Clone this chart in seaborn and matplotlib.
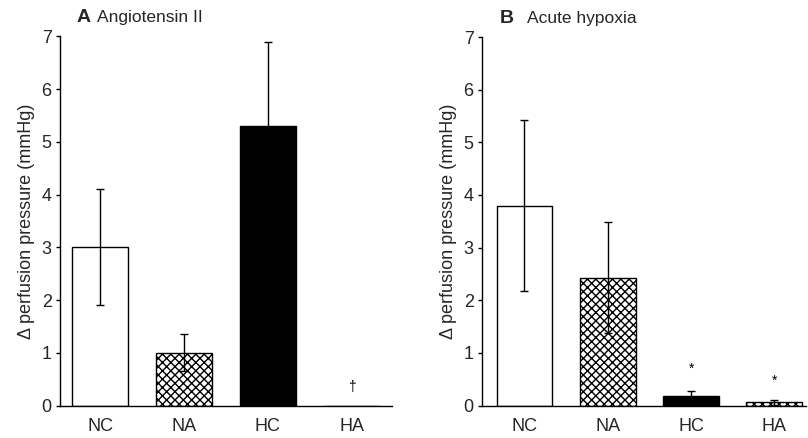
import matplotlib
matplotlib.use("Agg")
import matplotlib.pyplot as plt
import seaborn as sns
import pandas as pd
import numpy as np

categories = ["NC", "NA", "HC", "HA"]
ang_values = [3.0, 1.0, 5.3, 0.0]
ang_errors = [1.1, 0.35, 1.6, 0.0]
hyp_values = [3.8, 2.43, 0.18, 0.06]
hyp_errors = [1.63, 1.05, 0.10, 0.05]
ang_marks = ["", "", "", "†"]
hyp_marks = ["", "", "*", "*"]
ang_mark_y = [0, 0, 0, 0.35]
hyp_mark_y = [0, 0, 0.70, 0.47]
yticks = [0, 1, 2, 3, 4, 5, 6, 7]
ylabel = "Δ perfusion pressure (mmHg)"

sns.set_theme(style="ticks")
plt.rcParams["font.family"] = ["Liberation Sans", "DejaVu Sans"]

fig = plt.figure(figsize=(8.08, 4.38), dpi=100)
axA = fig.add_axes([0.0743, 0.074, 0.4107, 0.843])
axB = fig.add_axes([0.5965, 0.074, 0.401, 0.8415])

facecolors = ["white", "white", "black", "white"]
hatches = ["", "xxxx", "", "xxxx"]

def panel(ax, values, errors, marks, mark_y, letter, title, xlim, lx, tx):
    df = pd.DataFrame({"group": categories, "value": values})
    sns.barplot(data=df, x="group", y="value", order=categories, ax=ax,
                width=0.67, errorbar=None, color="white", saturation=1)
    for p, fc, h in zip(ax.patches, facecolors, hatches):
        p.set_facecolor(fc)
        p.set_edgecolor("black")
        p.set_linewidth(1.0)
        p.set_hatch(h)
    x = np.arange(len(categories))
    for xi, v, e in zip(x, values, errors):
        if e > 0:
            ax.errorbar(xi, v, yerr=e, fmt="none", ecolor="black",
                        elinewidth=1.0, capsize=3, capthick=1.0, zorder=5)
    for xi, m, my in zip(x, marks, mark_y):
        if m:
            ax.text(xi, my, m, ha="center", va="center", fontsize=10, color="black")
    ax.set_ylim(0, 7)
    ax.set_xlim(*xlim)
    ax.set_yticks(yticks)
    ax.set_yticklabels([str(t) for t in yticks], fontsize=13)
    ax.tick_params(axis="y", length=3, width=1, pad=3, color="black")
    ax.tick_params(axis="x", length=0, pad=9, labelsize=13)
    ax.set_xlabel("")
    ax.set_ylabel(ylabel, fontsize=13, labelpad=5)
    sns.despine(ax=ax)
    for s in ["left", "bottom"]:
        ax.spines[s].set_color("black")
        ax.spines[s].set_linewidth(1.0)
    ax.text(lx, 1.05, letter, transform=ax.transAxes, fontsize=14,
            fontweight="bold", va="center", ha="left")
    ax.text(tx, 1.05, title, transform=ax.transAxes, fontsize=12.5,
            va="center", ha="left")

panel(axA, ang_values, ang_errors, ang_marks, ang_mark_y, "A", "Angiotensin II",
      (-0.48, 3.48), 0.05, 0.11)
panel(axB, hyp_values, hyp_errors, hyp_marks, hyp_mark_y, "B", "Acute hypoxia",
      (-0.51, 3.38), 0.055, 0.14)

fig.savefig("out.png", dpi=100)
